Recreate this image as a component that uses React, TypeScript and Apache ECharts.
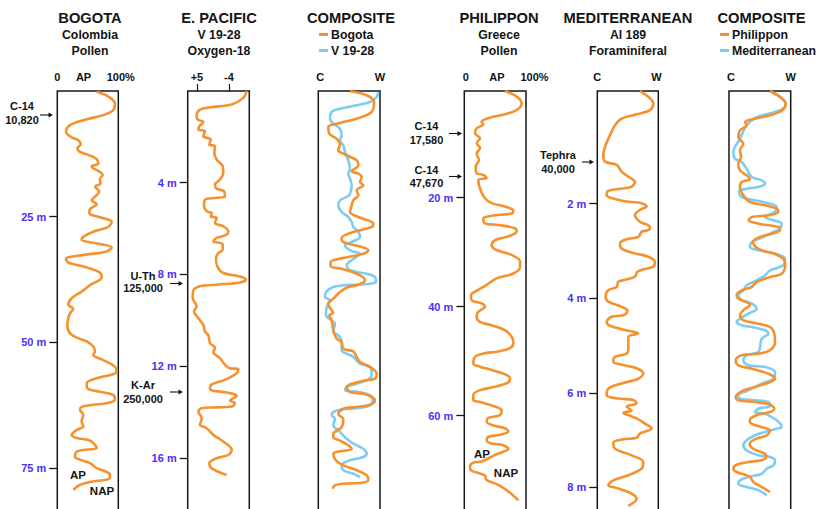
import React, { useEffect, useRef } from 'react';
import * as echarts from 'echarts';

const FONT = "'Liberation Sans', Arial, Helvetica, sans-serif";
const ORANGE = '#f5922e';
const SKY = '#7dccf2';
const BLUE_TEXT = '#4b32f2';
const INK = '#141414';

// ---------- titles / labels ----------
const panelTitles = ['BOGOTA', 'E. PACIFIC', 'COMPOSITE', 'PHILIPPON', 'MEDITERRANEAN', 'COMPOSITE'];
const panelSubtitles = [['Colombia', 'Pollen'], ['V 19-28', 'Oxygen-18'], [], ['Greece', 'Pollen'], ['Al 189', 'Foraminiferal'], []];
const legendComposite1 = ['Bogota', 'V 19-28'];
const legendComposite2 = ['Philippon', 'Mediterranean'];

const pollenTopLabels = ['0', 'AP', '100%'];
const bogotaTopValues = [0, 43, 100];
const philipponTopValues = [2.5, 53, 100];
const pacificTopLabels = ['+5', '-4'];
const pacificTopValues = [15, 67];
const climateTopLabels = ['C', 'W'];
const composite1TopValues = [3, 100];
const mediterraneanTopValues = [0, 97];
const composite2TopValues = [3, 100];

const bogotaDepthTicks = [25, 50, 75];
const pacificDepthTicks = [4, 8, 12, 16];
const philipponDepthTicks = [20, 40, 60];
const mediterraneanDepthTicks = [2, 4, 6, 8];

// ---------- series values: [value (% of panel width), depth] ----------
const bogotaPollen = [
  [64.5, 0.15], [83.6, 1.1], [94.5, 2.5], [91.8, 3.8], [75.4, 4.8], [42.6, 5.8], [20.8, 6.8], [14.2, 8.1], [22, 9.1], [34.4, 9.8],
  [38.3, 10.6], [32.8, 11.4], [37.2, 12.1], [50.8, 12.7], [64.5, 13.5], [67.2, 14.4], [56.3, 15.0], [69.9, 16.1], [74.3, 16.7],
  [69.9, 17.5], [71.0, 18.4], [61.7, 19.0], [68.9, 20.0], [61.7, 21.0], [56.3, 21.7], [64.5, 22.5], [53.6, 23.5], [52.5, 24.3],
  [69.9, 25.1], [89.1, 26.0], [83.6, 27.0], [59.0, 28.0], [42.6, 29.0], [39.9, 29.6], [64.5, 30.3], [89.1, 31.1], [80.9, 31.9],
  [42.6, 32.6], [14.2, 33.4], [18.0, 34.1], [42.6, 34.9], [69.9, 36.1], [72.7, 37.1], [53.6, 38.6], [39.9, 39.9], [23.5, 41.2],
  [18.0, 42.5], [26.2, 43.3], [20.8, 44.2], [18.0, 45.2], [16.4, 46.5], [20.8, 48.2], [37.2, 49.3], [48.1, 49.8], [59.0, 50.8],
  [61.7, 51.8], [59.0, 52.5], [75.4, 53.5], [94.5, 54.8], [97.3, 55.8], [89.1, 56.4], [64.5, 57.1], [48.1, 58.1], [49.2, 59.1],
  [69.9, 59.8], [91.8, 60.4], [94.5, 61.4], [80.9, 62.1], [59.0, 62.4], [39.9, 62.8], [37.2, 63.4], [42.6, 64.4], [39.9, 65.7],
  [42.6, 66.7], [31.7, 67.4], [23.5, 68.4], [31.7, 69.0], [50.8, 69.4], [59.0, 70.0], [64.5, 71.0], [48.1, 71.3], [31.7, 71.7],
  [29.0, 72.7], [37.2, 73.3], [53.6, 74.0], [64.5, 75.0], [78.1, 75.6], [86.3, 76.3], [85.2, 77.1], [59.0, 77.6], [37.2, 78.3],
  [26.2, 79.3]
];

const pacificOxygen18 = [
  [95.7, 0.0], [90.3, 0.3], [71.4, 0.59], [36.2, 0.71], [20.0, 0.81], [14.6, 1.03], [15.7, 1.24], [25.4, 1.35], [18.9, 1.54],
  [17.3, 1.68], [28.1, 1.75], [25.4, 1.97], [37.3, 2.12], [35.1, 2.34], [44.3, 2.41], [43.2, 2.7], [47.0, 2.99], [56.8, 3.28],
  [57.8, 3.57], [52.4, 3.86], [44.3, 4.08], [47.0, 4.26], [58.9, 4.37], [60.5, 4.59], [47.0, 4.66], [28.1, 4.74], [26.5, 5.03],
  [30.8, 5.25], [38.9, 5.32], [37.8, 5.47], [47.0, 5.54], [44.3, 5.76], [57.8, 5.9], [65.9, 6.12], [63.2, 6.27], [47.0, 6.41],
  [41.6, 6.56], [56.8, 6.68], [56.8, 6.92], [49.7, 7.07], [45.9, 7.29], [48.1, 7.65], [57.8, 7.94], [84.9, 8.09], [94.6, 8.23],
  [84.9, 8.35], [47.0, 8.45], [20.0, 8.52], [9.2, 8.71], [8.1, 9.03], [14.6, 9.4], [10.3, 9.61], [17.3, 9.91], [25.4, 10.2],
  [28.1, 10.5], [33.5, 10.65], [36.2, 11.0], [44.3, 11.2], [41.6, 11.4], [52.4, 11.65], [60.5, 11.94], [68.6, 12.1], [82.2, 12.12],
  [79.5, 12.31], [60.5, 12.6], [38.9, 12.8], [36.2, 13.0], [68.6, 13.18], [79.5, 13.3], [68.6, 13.5], [76.8, 13.62], [71.4, 13.76],
  [47.0, 13.8], [22.7, 13.84], [17.3, 13.98], [22.7, 14.27], [20.0, 14.56], [30.8, 14.71], [41.6, 15.0], [57.8, 15.29], [71.4, 15.65],
  [65.9, 15.87], [47.0, 16.02], [35.1, 16.24], [38.9, 16.46], [63.2, 16.75]
];

const compositeBogota = [
  [51.4, 0.3], [78.4, 4.3], [90.3, 11], [86.5, 21], [62.2, 27.7], [29.7, 32.7], [16.2, 36], [17.8, 42.7], [29.7, 47.7], [35.1, 52.7],
  [32.4, 59.3], [40.5, 62.7], [48.6, 65], [62.2, 69.3], [64.9, 74.3], [54.1, 80.3], [64.9, 82.7], [70.3, 86], [67.6, 91], [73, 94.3],
  [62.2, 99.3], [64.9, 104.3], [56.8, 109.3], [54.1, 114.3], [51.4, 121], [64.9, 126], [89.2, 132.7], [86.5, 136], [56.8, 141],
  [37.8, 147], [40.5, 151], [70.3, 156], [81.1, 159.3], [73, 162.7], [40.5, 167], [20, 171], [20, 175], [40.5, 178.3], [67.6, 184.3],
  [75.7, 189.3], [64.9, 193.7], [48.6, 196], [35.1, 201], [24.3, 207.7], [16.2, 212.7], [18.9, 217], [24.3, 221.7], [17.8, 224.3],
  [21.6, 229.3], [24.3, 239.3], [29.7, 247.7], [37.8, 251], [40.5, 257.7], [56.8, 260.3], [62.2, 266], [67.6, 271], [83.8, 276],
  [94.6, 282.7], [91.9, 287.7], [76.8, 289.3], [54.1, 292.7], [45.9, 296], [51.4, 301], [73, 302.7], [86.5, 306], [91.9, 309.3],
  [83.8, 313.7], [62.2, 316], [40.5, 317.7], [32.4, 323], [40.5, 328], [37.8, 336.3], [24.3, 343], [24.3, 346.3], [35.1, 349.7],
  [48.6, 354.3], [54.1, 358], [35.1, 360.3], [24.3, 362.7], [28.6, 369.3], [40.5, 374.3], [62.2, 379.3], [78.4, 384.3], [81.1, 389.3],
  [67.6, 392], [40.5, 392.7], [27, 394.3], [23.2, 397.7]
];

const compositeV1928 = [
  [97.3, 1], [94.6, 6], [83.8, 11], [62.2, 14.3], [35.1, 17.7], [21.6, 21], [18.9, 27.7], [24.3, 32.7], [35.1, 37.7], [37.8, 44.3],
  [35.1, 49.3], [40.5, 54.3], [43.2, 61], [48.6, 69.3], [51.4, 77.7], [48.6, 82.7], [51.4, 87.7], [54.1, 94.3], [51.4, 102.7],
  [45.9, 106], [35.1, 109.3], [32.4, 114.3], [37.8, 121], [48.6, 126], [54.1, 131], [56.8, 136], [64.9, 141], [67.6, 146], [54.1, 151],
  [43.2, 154.3], [51.4, 159.3], [67.6, 162.7], [56.8, 168], [45.9, 174.3], [51.4, 179.3], [78.4, 182.7], [91.9, 186], [93.5, 191],
  [83.8, 192.7], [62.2, 193.7], [40.5, 194.3], [24.3, 196], [12.4, 201], [10.8, 206], [18.9, 209.3], [13.5, 216], [12.4, 224.3],
  [21.6, 229.3], [27, 232.7], [24.3, 241], [32.4, 244.3], [37.8, 251], [37.8, 259.3], [45.9, 262.7], [56.8, 266], [67.6, 272.7],
  [83.8, 276], [86.5, 282.7], [83.8, 287.7], [62.2, 292.7], [45.9, 296], [43.2, 299.3], [64.9, 301], [83.8, 304.3], [88.1, 309.3],
  [83.8, 314.3], [64.9, 317], [40.5, 318.3], [24.3, 321], [21.6, 324.3], [27, 327.7], [24.3, 334.3], [32.4, 339.3], [37.8, 342.7],
  [45.9, 347.7], [56.8, 352.7], [72.9, 357.7], [78.4, 362.7], [72.9, 366], [51.4, 369.3], [37.8, 374.3], [40.5, 379.3], [56.8, 382.7],
  [67.6, 386]
];

const philipponPollen = [
  [65.9, 0.42], [84.9, 1.46], [93, 2.7], [84.9, 3.91], [65.9, 4.7], [38.9, 5.4], [28.1, 6.05], [30.8, 6.54], [20, 7.27], [17.3, 8.19],
  [25.4, 9.1], [20, 10.0], [25.4, 10.9], [20, 11.9], [23.8, 13.1], [18.4, 14.3], [20, 15.5], [30.8, 15.8], [36.2, 16.4], [22.7, 16.75],
  [25.4, 18.3], [33.5, 20.1], [44.3, 21.0], [65.9, 21.6], [79.5, 22.4], [76.8, 22.9], [44.3, 23.3], [30.8, 23.8], [33.5, 24.7],
  [55.1, 25.0], [82.2, 25.6], [84.9, 26.2], [71.4, 27.1], [49.7, 27.8], [44.3, 28.7], [52.4, 29.6], [76.8, 30.5], [90.3, 31.7],
  [90.3, 32.7], [79.5, 33.9], [52.4, 34.8], [36.2, 36.0], [22.7, 36.9], [10.8, 37.9], [11.9, 38.8], [28.1, 39.4], [33.5, 40.0],
  [22.7, 40.9], [20, 41.8], [25.4, 42.8], [44.3, 43.4], [65.9, 44.3], [76.8, 45.5], [79.5, 46.7], [74.1, 47.6], [55.1, 48.2],
  [30.8, 48.6], [17.3, 49.2], [14.6, 50.4], [25.4, 51.0], [44.3, 51.6], [65.9, 52.4], [74.1, 53.1], [71.4, 53.9], [49.7, 54.7],
  [25.4, 55.3], [14.6, 56.2], [14.6, 57.1], [25.4, 57.5], [47, 58.2], [60.5, 59.0], [57.8, 59.9], [38.9, 60.4], [36.2, 61.0],
  [44.3, 61.7], [65.9, 62.3], [71.4, 62.9], [57.8, 63.5], [38.9, 63.9], [36.2, 64.5], [44.3, 65.1], [63.2, 65.4], [71.4, 66.1],
  [63.2, 66.6], [49.7, 67.2], [28.1, 68.4], [14.6, 68.6], [9.2, 69.3], [11.9, 70.1], [25.4, 70.6], [33.5, 71.0], [36.2, 71.8],
  [55.1, 72.7], [71.4, 73.9], [87.6, 75.5]
];

const mediterraneanForaminifera = [
  [69.9, -0.38], [83.6, -0.26], [91.8, -0.12], [86.3, 0.02], [64.5, 0.11], [39.9, 0.2], [29, 0.34], [20.8, 0.55], [12.6, 0.8],
  [9.8, 0.97], [12.6, 1.11], [31.7, 1.18], [39.9, 1.32], [50.8, 1.43], [61.7, 1.54], [56.3, 1.64], [34.4, 1.69], [18.0, 1.73],
  [15.3, 1.82], [29, 1.9], [50.8, 1.96], [72.7, 1.99], [80.9, 2.06], [69.9, 2.13], [61.7, 2.24], [69.9, 2.38], [86.3, 2.49],
  [83.6, 2.56], [72.7, 2.59], [67.2, 2.7], [48.1, 2.75], [37.2, 2.84], [39.9, 2.95], [61.7, 3.05], [83.6, 3.12], [94.5, 3.23],
  [91.8, 3.33], [72.7, 3.4], [65.6, 3.44], [61.7, 3.54], [45.4, 3.61], [34.4, 3.65], [31.7, 3.76], [18, 3.83], [13.7, 3.97],
  [18, 4.07], [39.9, 4.18], [49.7, 4.27], [42.6, 4.36], [23.5, 4.39], [15.3, 4.5], [20.8, 4.58], [45.4, 4.67], [67.2, 4.74],
  [50.8, 4.82], [50.8, 5.06], [48.1, 5.17], [29, 5.24], [26.2, 5.34], [42.6, 5.41], [64.5, 5.48], [75.4, 5.59], [67.2, 5.7],
  [39.9, 5.8], [18, 5.91], [15.3, 6.05], [34.4, 6.12], [59, 6.15], [64.5, 6.22], [48.1, 6.29], [56.3, 6.37], [42.6, 6.42],
  [50.8, 6.47], [64.5, 6.54], [78.1, 6.65], [89.1, 6.75], [78.1, 6.82], [69.9, 6.86], [64.5, 6.95], [42.6, 6.98], [26.2, 7.05],
  [29, 7.18], [56.3, 7.32], [75.4, 7.46], [72.7, 7.6], [50.8, 7.74], [26.2, 7.85], [18, 7.95], [34.4, 8.02], [56.3, 8.13],
  [64.5, 8.24], [50.8, 8.39]
];

const compositePhilippon = [
  [66.5, 0.3], [82.7, 6], [91.9, 12.7], [86.5, 19.3], [66.5, 24.3], [42.2, 27.7], [25.9, 31], [28.6, 34.3], [17.8, 39.3], [15.1, 46],
  [23.2, 52.7], [17.8, 59.3], [19.5, 66], [15.1, 72.7], [17.8, 79.3], [28.6, 84.3], [34.1, 88.3], [20.5, 91], [17.8, 96], [23.2, 104.3],
  [34.1, 111], [58.4, 114.3], [77.3, 117.7], [80, 121], [63.8, 124.3], [37.3, 126], [31.9, 129.3], [48.1, 132.7], [80, 136],
  [82.7, 139.3], [69.2, 142.7], [50.3, 146], [38.9, 151], [47, 157.7], [73.5, 162.7], [88.1, 167.7], [91, 174.3], [85.4, 182.7],
  [66.5, 186], [44.9, 191], [36.8, 196], [20.5, 199.3], [12.4, 204.3], [15.1, 207.7], [28.6, 211], [34.1, 214.3], [25.9, 217.7],
  [17.8, 224.3], [23.2, 229.3], [47, 232.7], [66.5, 236], [73.5, 242.7], [74.6, 251], [66.5, 259.3], [47.6, 262.7], [20.5, 264.3],
  [10.8, 269.3], [15.1, 274.3], [36.8, 277.7], [63.8, 282.7], [74.6, 287.7], [66.5, 291], [42.2, 296], [20.5, 300.3], [10.8, 306],
  [15.1, 309.3], [42.2, 311], [66.5, 313.7], [73.5, 317.7], [66.5, 321], [44.3, 324.3], [33.5, 329.3], [36.2, 332.7], [52.4, 336],
  [66.5, 339.3], [61.1, 344.3], [44.3, 347.7], [33.5, 352.7], [38.9, 357.7], [57.8, 362.7], [60.5, 366], [52.4, 369.3], [31.4, 371],
  [12.4, 373.7], [7, 377.7], [12.4, 381], [25.9, 383.7], [34.1, 386], [39.5, 391], [53, 396], [66.5, 401]
];

const compositeMediterranean = [
  [66.5, 0.3], [82.7, 6], [91.9, 12.7], [84, 19], [62, 23], [42.2, 27], [28.6, 34.3], [17.8, 47.7], [7.0, 61], [9.7, 67.7],
  [20.5, 71], [28.6, 77.7], [36.8, 86], [53, 89.3], [58.4, 92.7], [47.6, 96], [28.6, 97.7], [16.2, 100.3], [20.5, 106], [42.2, 109.3],
  [66.5, 112.7], [77.3, 116], [74.6, 121], [58.4, 126], [71.9, 129.3], [85.4, 132.7], [82.7, 137.7], [71.9, 141], [55.7, 146],
  [36.8, 151], [34.1, 156], [47.6, 159.3], [74.6, 162.7], [90.8, 167.7], [88.1, 174.3], [66.5, 179.3], [58.4, 184.3], [44.9, 189.3],
  [28.6, 194.3], [23.2, 199.3], [15.1, 204.3], [20.5, 209.3], [36.8, 212.7], [44.9, 217.7], [31.4, 222.7], [17.8, 227.7], [12.4, 231],
  [20.5, 234.3], [36.8, 236], [58.4, 239.3], [63.8, 242.7], [53, 247.7], [50.3, 256], [47.6, 261], [28.6, 264.3], [23.2, 269.3],
  [31.4, 274.3], [58.4, 276], [74.6, 281], [71.9, 287.7], [53, 292.7], [31.4, 299.3], [15.1, 304.3], [17.8, 307.7], [42.2, 309.3],
  [63.8, 311], [66.5, 315], [47.6, 317.7], [42.2, 321], [58.4, 322.7], [77.3, 329.3], [85.4, 336], [77.3, 337.7], [58.4, 341],
  [42.2, 344.3], [28.6, 349.3], [23.2, 354.3], [28.6, 359.3], [47.6, 364.3], [66.5, 366], [74.6, 369.3], [71.9, 374.3], [61.1, 377.7],
  [53, 382.7], [31.4, 386], [17.8, 389.3], [15.1, 392.7], [28.6, 396], [47.6, 399.3], [61.1, 404.3]
];

// ---------- layout ----------
const GRID_TOP = 91;
const GRID_H = 428;

type TopAxis = { labels: string[]; values: number[]; ticks?: boolean; lastPad?: number };
type Panel = {
  left: number; width: number; yMin: number; yMax: number;
  top: TopAxis; depthTicks?: number[];
  series: { name: string; data: number[][]; color: string }[];
  titleX: number;
};

const panels: Panel[] = [
  { left: 57.3, width: 61, yMin: 0, yMax: 85.1, titleX: 90,
    top: { labels: pollenTopLabels, values: bogotaTopValues, lastPad: 5 }, depthTicks: bogotaDepthTicks,
    series: [{ name: 'Bogota pollen', data: bogotaPollen, color: ORANGE }] },
  { left: 187.7, width: 61.6, yMin: 0, yMax: 18.67, titleX: 219,
    top: { labels: pacificTopLabels, values: pacificTopValues, ticks: true }, depthTicks: pacificDepthTicks,
    series: [{ name: 'V 19-28 oxygen-18', data: pacificOxygen18, color: ORANGE }] },
  { left: 318.3, width: 61.7, yMin: 0, yMax: 428, titleX: 351,
    top: { labels: climateTopLabels, values: composite1TopValues },
    series: [{ name: 'V 19-28', data: compositeV1928, color: SKY }, { name: 'Bogota', data: compositeBogota, color: ORANGE }] },
  { left: 464.3, width: 61.7, yMin: 0.42, yMax: 78.95, titleX: 499,
    top: { labels: pollenTopLabels, values: philipponTopValues, lastPad: 17 }, depthTicks: philipponDepthTicks,
    series: [{ name: 'Philippon pollen', data: philipponPollen, color: ORANGE }] },
  { left: 597.3, width: 61, yMin: -0.383, yMax: 8.666, titleX: 628,
    top: { labels: climateTopLabels, values: mediterraneanTopValues }, depthTicks: mediterraneanDepthTicks,
    series: [{ name: 'Al 189 foraminifera', data: mediterraneanForaminifera, color: ORANGE }] },
  { left: 729, width: 61.7, yMin: 0, yMax: 428, titleX: 761.5,
    top: { labels: climateTopLabels, values: composite2TopValues },
    series: [{ name: 'Mediterranean', data: compositeMediterranean, color: SKY }, { name: 'Philippon', data: compositePhilippon, color: ORANGE }] },
];

const annotations = [
  { lines: ['C-14', '10,820'], x: 22, y: 106, arrow: [40, 53, 115] },
  { lines: ['125,000'], x: 143, y: 288, arrow: [170, 183, 283.5] },
  { lines: ['K-Ar', '250,000'], x: 143, y: 385, arrow: [170, 183, 392] },
  { lines: ['C-14', '17,580'], x: 426.5, y: 126, arrow: [449, 462, 133.5] },
  { lines: ['C-14', '47,670'], x: 426.5, y: 169.5, arrow: [449, 462, 176.5] },
  { lines: ['Tephra', '40,000'], x: 558, y: 155, arrow: [582, 594, 162] },
];
const curveLabels = [
  { text: 'AP', x: 78, y: 475 }, { text: 'NAP', x: 102, y: 491 },
  { text: 'AP', x: 482, y: 453.5 }, { text: 'NAP', x: 506, y: 472.5 },
];

function txt(text: string, x: number, y: number, size: number, align = 'center', color = INK) {
  return {
    type: 'text', x, y, silent: true,
    style: { text, fill: color, fontSize: size, fontWeight: 'bold', fontFamily: FONT, align, verticalAlign: 'middle' },
  };
}

function buildOption() {
  const graphic: any[] = [];
  panels.forEach((p, i) => {
    graphic.push(txt(panelTitles[i], p.titleX, 18, 14.7));
    panelSubtitles[i].forEach((s, j) => graphic.push(txt(s, p.titleX, 35 + j * 16, 12.3)));
  });
  graphic.push(txt('U-Th', 155.5, 275.5, 11, 'right'));
  annotations.forEach((a) => {
    a.lines.forEach((l, j) => graphic.push(txt(l, a.x, a.y + j * 13.5, 11)));
    const [x1, x2, y] = a.arrow;
    graphic.push({ type: 'line', silent: true, shape: { x1, y1: y, x2: x2 - 2, y2: y }, style: { stroke: INK, lineWidth: 1.1 } });
    graphic.push({ type: 'polygon', silent: true, shape: { points: [[x2, y], [x2 - 4.5, y - 2.6], [x2 - 4.5, y + 2.6]] }, style: { fill: INK } });
  });
  curveLabels.forEach((c) => graphic.push(txt(c.text, c.x, c.y, 11.5)));

  const grid = panels.map((p) => ({
    left: p.left, top: GRID_TOP, width: p.width, height: GRID_H,
    show: true, borderColor: INK, borderWidth: 1.5, backgroundColor: 'transparent',
    containLabel: false, outerBoundsMode: 'none',
  }));

  const xAxis = panels.map((p, i) => {
    const lastIdx = p.top.labels.length - 1;
    return {
      type: 'value', gridIndex: i, position: 'top', min: 0, max: 100,
      axisLine: { show: false }, splitLine: { show: false },
      axisTick: {
        show: !!p.top.ticks, customValues: p.top.values, length: 7, inside: false,
        lineStyle: { color: INK, width: 1.2 },
      },
      axisLabel: {
        show: true, customValues: p.top.values, margin: 9, showMinLabel: true, showMaxLabel: true,
        color: INK, fontSize: 11, fontWeight: 'bold', fontFamily: FONT,
        formatter: (v: number) => {
          const k = p.top.values.indexOf(v);
          if (k < 0) return '';
          if (k === lastIdx && p.top.lastPad) return `{r|${p.top.labels[k]}}`;
          return p.top.labels[k];
        },
        rich: {
          r: { padding: [0, 0, 0, p.top.lastPad || 0], color: INK, fontSize: 11, fontWeight: 'bold', fontFamily: FONT },
        },
      },
    };
  });

  const yAxis = panels.map((p, i) => ({
    type: 'value', gridIndex: i, inverse: true, min: p.yMin, max: p.yMax,
    axisLine: { show: false }, splitLine: { show: false },
    axisTick: {
      show: !!p.depthTicks, customValues: p.depthTicks || [], length: 8, inside: false,
      lineStyle: { color: INK, width: 1.3 },
    },
    axisLabel: {
      show: !!p.depthTicks, customValues: p.depthTicks || [], margin: 11, showMinLabel: true, showMaxLabel: true,
      color: BLUE_TEXT, fontSize: 11, fontWeight: 'bold', fontFamily: FONT,
      formatter: (v: number) => `${v} m`,
    },
  }));

  const series: any[] = [];
  panels.forEach((p, i) => {
    p.series.forEach((s) => {
      series.push({
        type: 'line', name: s.name, xAxisIndex: i, yAxisIndex: i, data: s.data,
        showSymbol: false, symbol: 'none', smooth: 0.35,
        lineStyle: { color: s.color, width: 2.6 }, itemStyle: { color: s.color },
      });
    });
  });

  const legendBase = {
    orient: 'vertical', top: 28.5, itemWidth: 9, itemHeight: 3, itemGap: 4, icon: 'rect', padding: 0,
    selectedMode: false,
    textStyle: { fontSize: 12.3, fontWeight: 'bold', color: INK, fontFamily: FONT, padding: [0, 0, 0, -2] },
  };

  return {
    animation: false,
    backgroundColor: '#ffffff',
    grid, xAxis, yAxis, series, graphic,
    legend: [
      { ...legendBase, left: 319, data: legendComposite1 },
      { ...legendBase, left: 720, data: legendComposite2 },
    ],
  };
}

export default function App() {
  const ref = useRef<HTMLDivElement>(null);
  useEffect(() => {
    if (!ref.current) return;
    const chart = echarts.init(ref.current, undefined, { renderer: 'svg' });
    chart.setOption(buildOption() as any);
    return () => chart.dispose();
  }, []);
  return <div ref={ref} style={{ position: 'fixed', left: 0, top: 0, width: 818, height: 509, background: '#fff' }} />;
}
